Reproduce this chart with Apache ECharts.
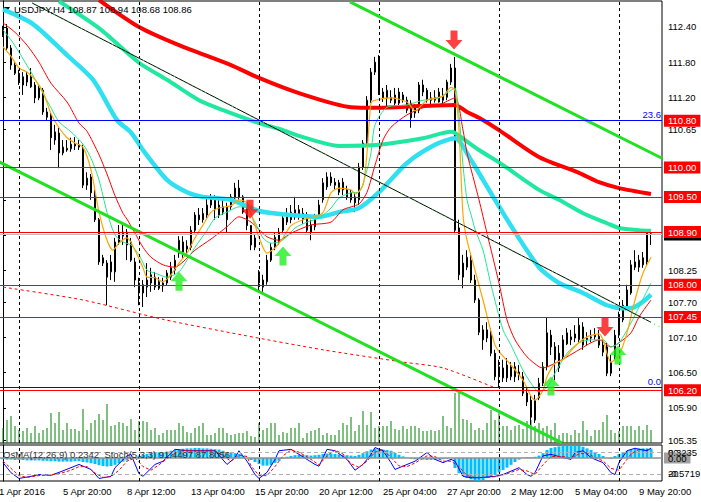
<!DOCTYPE html>
<html>
<head>
<meta charset="utf-8">
<title>USDJPY H4</title>
<script src="https://cdn.jsdelivr.net/npm/echarts@6/dist/echarts.min.js"></script>
<style>
  html, body { margin: 0; padding: 0; background: #fff; }
  #chart { width: 701px; height: 502px; }
</style>
</head>
<body>
<div id="chart"></div>
<script>
// H4 bars, one row per bar: [open, close, low, high]
const candles = [
  [112.26,112.35,112.23,112.42],[112.38,112.04,112.01,112.45],[112.04,111.75,111.67,112.09],[111.75,111.61,111.58,111.80],
  [111.61,111.46,111.41,111.67],[111.41,111.55,111.24,111.63],[111.46,111.58,111.39,111.63],[111.55,111.38,111.36,111.70],
  [111.41,111.19,111.10,111.46],[111.19,111.36,111.15,111.41],[111.32,110.95,110.90,111.36],[110.95,110.86,110.81,111.02],
  [110.90,110.51,110.30,110.95],[110.47,110.61,110.39,110.73],[110.59,110.25,109.99,110.68],[110.25,110.35,110.21,110.47],
  [110.30,110.33,110.27,110.47],[110.32,110.40,110.27,110.51],[110.37,110.40,110.30,110.52],[110.39,110.35,110.30,110.47],
  [110.33,109.70,109.65,110.39],[109.70,109.82,109.62,109.92],[109.84,109.57,109.45,109.89],[109.53,109.11,109.07,109.62],
  [109.11,108.39,108.34,109.14],[108.46,108.37,108.32,108.51],[108.37,108.13,107.65,108.42],[108.22,108.39,108.08,108.51],
  [108.22,108.73,108.05,108.80],[108.73,108.90,108.68,109.02],[108.83,108.90,108.68,109.02],[108.90,108.68,108.42,108.95],
  [108.73,108.42,108.39,108.80],[108.39,108.08,107.96,108.46],[108.03,107.86,107.65,108.12],[108.00,107.86,107.62,108.08],
  [107.96,108.08,107.79,108.37],[108.17,108.03,107.88,108.29],[108.13,107.96,107.91,108.22],[108.05,107.94,107.91,108.13],
  [108.03,107.98,107.88,108.12],[108.03,108.20,107.98,108.25],[108.13,108.29,108.08,108.39],[108.25,108.42,108.17,108.51],
  [108.54,108.76,108.46,108.83],[108.73,108.56,108.46,108.83],[108.61,108.66,108.51,108.76],[108.64,108.93,108.59,109.00],
  [108.93,109.19,108.88,109.24],[109.19,109.11,109.02,109.31],[109.11,109.22,109.06,109.31],[109.19,109.36,109.14,109.48],
  [109.36,109.45,109.31,109.55],[109.45,109.28,109.11,109.53],[109.36,109.19,109.14,109.45],[109.24,109.33,109.19,109.45],
  [109.33,109.11,108.90,109.40],[109.33,109.50,109.28,109.55],[109.48,109.65,109.45,109.74],[109.65,109.50,109.45,109.79],
  [109.50,109.24,109.21,109.53],[109.33,109.01,108.93,109.36],[109.01,108.68,108.59,109.02],[108.64,108.80,108.59,108.85],
  [108.22,108.03,107.86,108.25],[108.08,107.96,107.88,108.17],[108.05,108.42,108.00,108.51],[108.42,108.64,108.39,108.71],
  [108.64,108.81,108.59,108.90],[108.73,108.90,108.68,108.97],[108.93,109.14,108.88,109.19],[109.07,109.22,109.02,109.31],
  [109.24,109.11,109.05,109.36],[109.16,109.28,109.11,109.50],[109.28,109.16,109.11,109.36],[109.11,109.22,109.04,109.31],
  [109.19,108.93,108.90,109.24],[109.02,108.90,108.76,109.11],[108.99,109.16,108.93,109.21],[109.19,109.36,109.14,109.45],
  [109.45,109.74,109.40,109.82],[109.67,109.84,109.62,109.92],[109.84,109.74,109.69,109.92],[109.75,109.70,109.62,109.82],
  [109.74,109.58,109.53,109.79],[109.75,109.62,109.53,109.82],[109.62,109.50,109.45,109.69],[109.57,109.45,109.40,109.62],
  [109.50,109.40,109.24,109.58],[109.45,110.01,109.36,110.08],[110.01,110.42,109.96,110.47],[110.42,111.15,110.37,111.22],
  [111.15,111.63,111.10,111.70],[111.63,111.80,111.58,111.89],[111.87,111.29,111.24,111.92],[111.29,111.19,111.12,111.36],
  [111.19,111.32,111.03,111.41],[111.20,111.15,111.10,111.32],[111.24,111.10,111.05,111.36],[111.10,111.29,111.05,111.36],
  [111.24,111.15,111.11,111.29],[111.15,110.98,110.93,111.21],[111.10,110.85,110.68,111.15],[110.93,111.02,110.85,111.08],
  [110.98,111.41,110.93,111.46],[111.41,111.29,111.22,111.50],[111.32,111.15,111.11,111.36],[111.19,111.15,111.07,111.29],
  [111.15,111.20,111.11,111.32],[111.12,111.29,111.11,111.36],[111.24,111.15,111.10,111.36],[111.20,111.46,111.15,111.50],
  [111.46,111.70,111.41,111.77],[111.70,108.93,108.88,111.89],[108.97,108.17,108.08,109.11],[108.13,108.37,107.94,108.51],
  [108.30,108.47,108.25,108.59],[108.42,108.08,108.03,108.51],[108.08,107.74,107.69,108.17],[107.74,107.19,107.14,107.77],
  [107.23,107.06,106.89,107.31],[107.09,107.23,107.02,107.36],[107.19,106.83,106.78,107.26],[106.83,106.43,106.37,106.89],
  [106.43,106.60,106.24,106.72],[106.41,106.58,106.34,106.72],[106.63,106.41,106.34,106.75],[106.43,106.60,106.37,106.68],
  [106.60,106.43,106.34,106.68],[106.51,106.46,106.37,106.63],[106.43,106.15,106.10,106.51],[106.15,106.00,105.93,106.24],
  [106.03,105.74,105.61,106.10],[105.69,106.03,105.64,106.12],[106.07,106.32,106.03,106.41],[106.32,106.60,106.27,106.68],
  [106.60,107.18,106.54,107.45],[107.14,106.94,106.80,107.23],[106.94,106.72,106.37,107.02],[106.83,106.58,106.51,106.97],
  [106.77,107.06,106.72,107.14],[106.99,107.18,106.97,107.26],[107.11,107.06,106.97,107.23],[107.09,107.16,107.02,107.31],
  [107.06,107.31,107.01,107.43],[107.28,106.97,106.89,107.36],[107.06,107.09,106.97,107.19],[107.09,107.11,107.02,107.23],
  [107.11,107.14,107.06,107.26],[107.12,106.97,106.92,107.23],[106.97,106.85,106.78,107.06],[106.94,106.49,106.44,107.01],
  [106.49,106.68,106.44,106.80],[106.77,107.14,106.72,107.23],[107.14,107.45,107.09,107.54],[107.40,107.65,107.36,107.74],
  [107.60,107.91,107.57,108.00],[107.86,108.34,107.83,108.42],[108.39,108.30,108.25,108.59],[108.30,108.42,108.22,108.51],
  [108.46,108.34,108.29,108.56],[108.39,108.88,108.34,108.93],[108.87,108.86,108.68,108.94]
];

// tick volume per bar
const volumes = [
  6000,9200,10800,6800,5200,4800,6000,4000,6800,4000,5200,6000,12000,8000,12400,5200,8000,5600,5600,4800,
  13600,5200,8000,9200,11600,9200,15600,6800,7200,8400,8000,6800,9600,5200,8800,8800,8400,5200,6000,3200,
  4000,5200,5200,5200,8000,6800,4400,4000,6000,6800,8000,3200,3200,4000,6000,6000,4000,3200,3600,4000,
  4000,4800,2800,2400,8000,5200,6000,8000,8000,3200,4400,4000,6000,6000,8000,2000,4000,4800,5200,6000,
  3200,4000,3200,3200,5200,8000,7200,10400,4800,7200,12800,7200,12400,6000,6800,6800,6800,8800,5600,5200,
  6800,5600,6800,6800,6000,4800,4800,5200,4800,5200,10800,6800,6000,20000,20000,9600,9200,8000,5200,6000,
  5200,8000,13200,9200,12000,6800,6800,5200,6800,7200,5600,8800,9200,6800,8000,6000,6800,5200,8000,3200,
  4000,4000,3200,5200,4000,8800,5200,2800,5200,5200,8400,11200,5200,4000,4800,6800,6800,6800,5200,6800,
  5200,7200,5200
];

// OsMA(12,26,9) histogram per bar
const osma = [
  -0.03,-0.04,-0.04,-0.05,-0.05,-0.05,-0.06,-0.06,-0.06,-0.06,-0.07,-0.07,-0.08,-0.08,-0.09,
  -0.09,-0.09,-0.09,-0.08,-0.08,-0.10,-0.11,-0.13,-0.15,-0.18,-0.20,-0.21,-0.20,-0.17,
  -0.13,-0.09,-0.06,-0.02,0.02,0.06,0.08,0.10,0.12,0.13,0.14,0.15,0.16,0.18,0.20,
  0.22,0.23,0.24,0.24,0.25,0.25,0.24,0.24,0.23,0.22,0.21,0.18,0.15,0.13,0.12,0.10,0.05,0.00,
  -0.05,-0.10,-0.15,-0.19,-0.19,-0.17,-0.12,-0.07,-0.02,
  0.03,0.05,0.07,0.08,0.08,0.07,0.06,0.07,0.08,0.10,0.11,0.11,0.10,0.09,0.08,0.07,0.06,0.05,0.08,0.12,
  0.17,0.21,0.23,0.22,0.21,0.20,0.18,0.13,0.08,0.04,0.01,-0.02,-0.03,-0.03,-0.04,-0.05,-0.05,-0.05,
  -0.04,-0.03,-0.02,0.00,
  -0.25,-0.38,-0.45,-0.50,-0.53,-0.56,-0.5719,-0.55,-0.50,-0.47,-0.42,-0.36,-0.30,-0.24,-0.17,-0.10,-0.04,
  0.01,0.02,0.02,0.03,0.06,0.12,0.20,0.25,0.27,0.29,0.31,0.32,0.3235,0.31,0.30,0.28,0.24,0.20,0.15,0.10,
  0.05,0.00,-0.02,0.05,0.10,0.15,0.18,0.21,0.23,0.24,0.24,0.24,0.2342
];

// Stochastic(5,3,3) read at [bar, value]
const stochMain = [[0,51],[2,23],[4,7],[7,13],[9,18],[12,16],[14,24],[17,37],[19,46],[22,32],[24,7],[27,13],[28,37],
  [31,70],[32,74],[34,20],[35,13],[38,46],[40,55],[43,88],[46,84],[49,84],[53,84],[56,46],[58,65],[59,84],[61,55],
  [63,18],[64,7],[66,24],[68,60],[69,84],[72,88],[74,74],[78,46],[79,41],[81,88],[83,84],[86,60],[88,30],[90,46],
  [92,74],[93,93],[95,84],[97,51],[98,32],[101,46],[103,55],[106,79],[108,60],[110,51],[112,60],[113,55],[115,13],
  [117,9],[119,9],[121,11],[123,13],[125,18],[128,32],[129,37],[131,18],[132,13],[133,23],[135,70],[137,74],[140,65],
  [142,60],[143,79],[145,84],[147,65],[148,60],[150,51],[152,23],[153,18],[154,51],[156,84],[158,91],[159,88],
  [161,84],[162,91.45]];
const stochSignal = [[0,55],[2,35],[4,15],[6,10],[9,15],[12,17],[14,20],[17,30],[19,40],[21,40],[23,22],[25,10],
  [27,12],[29,30],[31,55],[33,65],[35,40],[37,30],[39,45],[41,62],[43,78],[45,85],[49,84],[53,84],[55,70],[57,55],
  [59,72],[61,68],[62,42],[64,15],[66,15],[68,40],[70,70],[72,86],[74,80],[77,60],[79,45],[81,70],[83,86],[85,75],
  [87,48],[89,38],[91,55],[93,80],[95,88],[97,65],[99,42],[101,40],[103,50],[106,70],[108,68],[110,55],[112,55],
  [114,40],[116,15],[118,10],[121,10],[123,12],[126,20],[129,32],[131,28],[133,18],[135,45],[137,68],[140,68],
  [142,64],[144,75],[146,78],[148,65],[150,56],[152,35],[154,30],[155,45],[157,75],[159,88],[161,87],[162,87.81]];

// moving averages at [bar, price]
const maSlowRed = [[24,112.86],[34,112.40],[44,112.09],[57,111.75],[64,111.53],[74,111.27],[87,111.03],[94,111.02],
  [104,111.05],[113,111.07],[116,110.95],[119,110.85],[124,110.64],[134,110.18],[144,109.91],[149,109.75],[154,109.65],[162,109.55]];
const maTeal = [[14,112.84],[24,112.38],[34,111.79],[41,111.50],[49,111.15],[57,110.93],[64,110.76],[70,110.64],
  [74,110.54],[79,110.44],[84,110.37],[94,110.39],[105,110.50],[112,110.61],[113,110.59],[119,110.30],[124,110.09],
  [134,109.62],[139,109.45],[145,109.22],[151,109.05],[154,108.97],[159,108.93],[162,108.92]];
const maCyan = [[0,112.70],[7.5,112.45],[16,111.92],[22.5,111.50],[28.5,110.81],[32,110.60],[35,110.30],[41,109.79],
  [46,109.58],[50,109.50],[57,109.45],[64,109.26],[72,109.19],[79,109.16],[84,109.24],[89,109.31],[94,109.58],
  [101,110.08],[108,110.39],[113,110.50],[117,110.13],[120,109.79],[123,109.45],[128,108.90],[134,108.30],
  [139,108.03],[145,107.86],[151,107.65],[155,107.60],[157,107.60],[160,107.71],[162,107.83]];
const maFastRed = [[0,112.47],[3,112.31],[6,112.09],[9,111.80],[12,111.44],[16,111.12],[19,110.76],[21,110.62],
  [24,110.22],[26,109.89],[28,109.52],[30,109.22],[31,109.12],[33,108.88],[35,108.64],[37,108.47],[40,108.34],
  [43,108.30],[45,108.39],[48,108.59],[52,108.78],[56,108.99],[59,109.16],[62,109.07],[66,108.82],[69,108.76],
  [72,108.88],[77,109.02],[82,109.07],[85,109.28],[89,109.38],[91,109.58],[93,110.04],[95,110.47],[97,110.69],
  [101,110.90],[105,111.02],[109,111.07],[113,111.19],[115,110.64],[116,110.25],[119,109.45],[121,108.88],
  [124,108.03],[126,107.40],[128,107.06],[131,106.77],[134,106.60],[135,106.58],[138,106.66],[141,106.77],
  [144,106.89],[147,107.01],[149,107.06],[152,106.94],[154,107.01],[157,107.18],[159,107.45],[162,107.74]];
const maGreen = [[0,112.35],[2,112.18],[4,111.97],[7,111.63],[9,111.39],[12,111.02],[14,110.78],[17,110.61],
  [20,110.40],[22,110.16],[24,109.79],[26,109.24],[28,108.85],[30,108.73],[32,108.68],[34,108.51],[36,108.25],
  [38,108.20],[41,108.13],[44,108.22],[46,108.42],[48,108.64],[51,108.93],[53,109.14],[56,109.24],[59,109.33],
  [61,109.31],[63,109.07],[65,108.80],[67,108.71],[69,108.73],[71,108.82],[73,108.97],[76,109.07],[79,109.14],
  [82,109.31],[84,109.48],[87,109.57],[89,109.58],[91,109.96],[92,110.25],[93,110.73],[96,111.03],[101,111.07],
  [105,111.15],[109,111.19],[112,111.32],[113,111.36],[114,110.90],[115,110.04],[116,109.45],[117,109.20],
  [118,108.95],[120,108.59],[122,108.00],[125,107.23],[127,106.97],[130,106.54],[132,106.32],[134,106.17],
  [136,106.25],[138,106.49],[141,106.83],[144,107.01],[147,107.06],[150,107.06],[152,106.94],[154,107.01],
  [157,107.35],[159,107.62],[162,108.03]];
const maOrange = [[0,112.06],[2,111.90],[4,111.70],[6,111.63],[8,111.50],[10,111.29],[12,110.92],[14,110.68],
  [16,110.51],[18,110.42],[20,110.35],[22,109.96],[24,109.24],[26,108.76],[27.5,108.59],[29,108.71],[31,108.80],
  [33,108.59],[35,108.29],[36,108.13],[38,108.12],[40,108.05],[42,108.17],[44,108.37],[46,108.54],[48,108.80],
  [50,109.02],[52,109.24],[54,109.31],[57,109.35],[59,109.45],[61,109.40],[62,109.21],[63,109.02],[64,108.81],
  [66,108.54],[68,108.63],[70,108.80],[72,109.01],[75,109.11],[78,109.16],[80,109.23],[82,109.57],[84,109.65],
  [87,109.62],[88,109.55],[90,109.70],[91,110.25],[92,111.10],[93,111.15],[97,111.19],[101,111.12],[103,110.97],
  [106,111.15],[110,111.22],[112,111.37],[113,111.32],[114,110.64],[115,109.19],[116,108.76],[118,108.25],
  [120,107.74],[123,106.97],[125,106.78],[127,106.63],[130,106.37],[132,106.10],[133,106.03],[135,106.20],
  [136,106.43],[138,106.66],[140,106.72],[143,106.95],[146,107.11],[149,107.16],[150,107.06],[152,106.68],
  [154,106.80],[156,107.18],[158,107.74],[160,108.20],[162,108.47]];
const maDottedRed = [[0,107.96],[20,107.74],[40,107.41],[60,107.14],[80,106.89],[100,106.68],[110,106.58],[123,106.24]];

// horizontal levels
const levelPrices = [110.80, 110.00, 109.50, 108.90, 108.00, 107.45, 106.20];
const fibPrices = [110.80, 106.25];
const fibNames = ['23.6', '0.0'];
const lastPrice = 108.86;

// trend lines, [bar, price] end points
const upperChannel = [[86.75, 112.83], [164.75, 110.16]];
const lowerChannel = [[-1, 110.10], [139.75, 105.30]];
const midTrend = [[7.25, 112.81], [162, 107.36]];
const midTrendRay = [[7.25, 112.81], [164.75, 107.26]];

// signal arrows, [bar, price]
const sellArrows = [[61.75, 109.29], [112.75, 112.18], [150.5, 107.28]];
const buyArrows = [[44, 108.06], [70, 108.49], [137, 106.27], [153.75, 106.80]];

// axis ticks
const priceTicks = [112.40, 111.80, 111.20, 110.65, 110.05, 109.45, 108.85, 108.25, 107.70, 107.10, 106.50, 105.90, 105.35];
const weekBars = [4, 34, 64, 94, 124, 154];
const timeLabelBars = [-1, 15, 31, 47, 63, 79, 95, 111, 127, 143, 159];
const timeLabels = ['1 Apr 2016', '5 Apr 20:00', '8 Apr 12:00', '13 Apr 04:00', '15 Apr 20:00', '20 Apr 12:00',
  '25 Apr 04:00', '27 Apr 20:00', '2 May 12:00', '5 May 04:00', '9 May 20:00'];

const FONT = '"Liberation Sans", Arial, sans-serif';
const FS = 9.5;
const X_MIN = -1, X_MAX = 164.75;

const ARROW_DOWN = 'path://M5,0 L12,0 L12,9 L17,9 L8.5,18 L0,9 L5,9 Z';
const ARROW_UP = 'path://M8.5,0 L17,9 L12,9 L12,18 L5,18 L5,9 L0,9 Z';

// Builds a moving average line series
function maSeries(data, color, width, extra) {
  return {
    type: 'line', xAxisIndex: 0, yAxisIndex: 0, data: data,
    symbol: 'none', smooth: 0.25, silent: true, z: 3,
    lineStyle: { color: color, width: width },
    ...extra
  };
}

// Builds a trend line as a markLine segment
function segment(points) {
  return [{ coord: points[0] }, { coord: points[1] }];
}

// Builds an empty carrier series for markLines
function carrier(xi, yi, markLine, z) {
  return { type: 'line', xAxisIndex: xi, yAxisIndex: yi, data: [], silent: true, z: z, markLine: markLine };
}

function baseMark(overrides) {
  return { symbol: 'none', silent: true, animation: false, ...overrides };
}

const chart = echarts.init(document.getElementById('chart'), null, { renderer: 'svg' });

const timeLabelMap = {};
timeLabelBars.forEach((b, k) => { timeLabelMap[b] = timeLabels[k]; });

const option = {
  animation: false,
  backgroundColor: '#ffffff',
  textStyle: { fontFamily: FONT },
  title: [
    { text: 'USDJPY,H4 108.87 108.94 108.68 108.86', left: 14, top: 4, padding: 0,
      textStyle: { fontSize: FS, fontWeight: 'normal', color: '#000', fontFamily: FONT } },
    { text: 'OsMA(12,26,9) 0.2342  Stoch(5,3,3) 91.4497 87.8056', left: 3, top: 449, padding: 0,
      textStyle: { fontSize: FS, fontWeight: 'normal', color: '#333', fontFamily: FONT } }
  ],
  graphic: [
    { type: 'polygon', shape: { points: [[3, 7], [10, 7], [6.5, 12]] }, style: { fill: '#000' } }
  ],
  grid: [
    { left: -1, top: 1, width: 663, height: 442, show: true, borderColor: '#000', borderWidth: 1,
      backgroundColor: 'transparent', containLabel: false, outerBoundsMode: 'none' },
    { left: -1, top: 445, width: 663, height: 36, show: true, borderColor: '#000', borderWidth: 1,
      backgroundColor: 'transparent', containLabel: false, outerBoundsMode: 'none' }
  ],
  xAxis: [
    { type: 'value', gridIndex: 0, min: X_MIN, max: X_MAX, show: false },
    { type: 'value', gridIndex: 1, min: X_MIN, max: X_MAX,
      axisLine: { show: false }, axisTick: { show: false }, splitLine: { show: false },
      axisLabel: { show: true, customValues: timeLabelBars, align: 'left', margin: 5,
        fontSize: FS, color: '#000', fontFamily: FONT,
        formatter: v => timeLabelMap[v] || '' } }
  ],
  yAxis: [
    { type: 'value', gridIndex: 0, position: 'right', min: 105.2988, max: 112.8438,
      axisLine: { show: true, lineStyle: { color: '#000' } },
      axisTick: { show: true, length: 3, customValues: priceTicks, lineStyle: { color: '#000' } },
      splitLine: { show: false },
      axisLabel: { show: true, customValues: priceTicks, margin: 6, fontSize: FS, color: '#000',
        fontFamily: FONT, formatter: v => v.toFixed(2) } },
    { type: 'value', gridIndex: 0, min: 0, max: 176800, show: false },
    { type: 'value', gridIndex: 1, position: 'right', min: 0, max: 100,
      axisLine: { show: true, lineStyle: { color: '#000' } },
      axisTick: { show: false }, splitLine: { show: false },
      axisLabel: { show: true, customValues: [20, 80], margin: 6, fontSize: FS, color: '#000',
        fontFamily: FONT, formatter: v => String(v) } },
    { type: 'value', gridIndex: 1, position: 'right', min: -0.5719, max: 0.3235,
      axisLine: { show: false }, axisTick: { show: false }, splitLine: { show: false },
      axisLabel: { show: true, customValues: [0], margin: 2, fontSize: FS, color: '#000',
        fontFamily: FONT, backgroundColor: '#a0a0a0', padding: [1, 4, 0, 4], formatter: () => '0.00' } },
    { type: 'value', gridIndex: 1, position: 'right', min: 0, max: 100,
      axisLine: { show: false }, axisTick: { show: false }, splitLine: { show: false },
      axisLabel: { show: true, customValues: [20, 80], margin: 6, fontSize: FS, color: '#000',
        fontFamily: FONT, formatter: v => (v === 80 ? '0.3235' : '-0.5719') } }
  ],
  series: [
    // week separators
    carrier(0, 0, baseMark({ lineStyle: { color: '#000', width: 1, type: [3, 3] }, label: { show: false },
      data: weekBars.map(b => ({ xAxis: b })) }), 0),
    carrier(1, 2, baseMark({ lineStyle: { color: '#000', width: 1, type: [3, 3] }, label: { show: false },
      data: weekBars.map(b => ({ xAxis: b })) }), 0),
    {
      name: 'Volume', type: 'bar', xAxisIndex: 0, yAxisIndex: 1, barWidth: 1, silent: true, z: 1,
      itemStyle: { color: '#008000' },
      data: volumes.map((v, i) => [i, v])
    },
    {
      name: 'USDJPY', type: 'candlestick', xAxisIndex: 0, yAxisIndex: 0, barWidth: 2, silent: true, z: 2,
      encode: { x: 0, y: [1, 2, 3, 4] },
      itemStyle: { color: '#ffffff', color0: '#000000', borderColor: '#000000', borderColor0: '#000000', borderWidth: 1 },
      data: candles.map((c, i) => [i, c[0], c[1], c[2], c[3]])
    },
    maSeries(maDottedRed, '#ff0000', 1, { lineStyle: { color: '#ff0000', width: 1, type: [3, 3] } }),
    maSeries(maSlowRed, '#ff0000', 4),
    maSeries(maTeal, '#20e8a0', 4),
    maSeries(maCyan, '#30e0f0', 4.5),
    maSeries(maFastRed, '#ff0000', 1),
    maSeries(maGreen, '#20e890', 1),
    maSeries(maOrange, '#ffa500', 1.2),
    // trend lines
    carrier(0, 0, baseMark({ label: { show: false }, data: [segment(upperChannel), segment(lowerChannel)],
      lineStyle: { color: '#22e022', width: 3, type: 'solid' } }), 4),
    carrier(0, 0, baseMark({ label: { show: false }, data: [segment(midTrend)],
      lineStyle: { color: '#000', width: 1, type: 'solid' } }), 4),
    carrier(0, 0, baseMark({ label: { show: false }, data: [segment(midTrendRay)],
      lineStyle: { color: '#22dd22', width: 1, type: [1, 4] } }), 4),
    // current price
    carrier(0, 0, baseMark({
      lineStyle: { color: '#c0c0c0', width: 1, type: 'solid' },
      label: { show: true, position: 'end', distance: 2, color: '#fff', backgroundColor: '#000',
        padding: [1, 4, 1, 4], fontSize: FS, fontFamily: FONT, formatter: p => p.value.toFixed(2) },
      data: [{ yAxis: lastPrice }] }), 4),
    // horizontal levels
    carrier(0, 0, baseMark({
      lineStyle: { color: '#ff0000', width: 1, type: 'solid' },
      label: { show: true, position: 'end', distance: 2, color: '#fff', backgroundColor: '#ff0000',
        padding: [1, 4, 1, 4], fontSize: FS, fontFamily: FONT, formatter: p => p.value.toFixed(2) },
      data: levelPrices.map(v => ({ yAxis: v })) }), 5),
    carrier(0, 0, baseMark({
      lineStyle: { color: '#0000ff', width: 1, type: 'solid' },
      label: { show: true, position: 'insideEndTop', distance: 1, color: '#0000ff', fontSize: FS, fontFamily: FONT,
        formatter: p => fibNames[fibPrices.indexOf(p.value)] },
      data: fibPrices.map(v => ({ yAxis: v })) }), 5),
    {
      name: 'Sell', type: 'scatter', xAxisIndex: 0, yAxisIndex: 0, symbol: ARROW_DOWN, symbolSize: [17, 19],
      silent: true, z: 6, itemStyle: { color: '#ff1010' }, data: sellArrows
    },
    {
      name: 'Buy', type: 'scatter', xAxisIndex: 0, yAxisIndex: 0, symbol: ARROW_UP, symbolSize: [17, 19],
      silent: true, z: 6, itemStyle: { color: '#22ee22' }, data: buyArrows
    },
    // lower panel
    {
      name: 'OsMA', type: 'bar', xAxisIndex: 1, yAxisIndex: 3, barWidth: 3, silent: true, z: 2,
      itemStyle: { color: '#00bfff' },
      data: osma.map((v, i) => [i, v]),
      markLine: baseMark({ lineStyle: { color: '#909090', width: 1.5, type: 'solid' }, label: { show: false },
        data: [{ yAxis: 0 }] })
    },
    {
      name: 'Stoch', type: 'line', xAxisIndex: 1, yAxisIndex: 2, symbol: 'none', silent: true, z: 3,
      lineStyle: { color: '#0000ff', width: 1 }, data: stochMain,
      markLine: baseMark({ lineStyle: { color: '#b0b0b0', width: 1, type: [4, 3] }, label: { show: false },
        data: [{ yAxis: 80 }, { yAxis: 20 }] })
    },
    {
      name: 'Signal', type: 'line', xAxisIndex: 1, yAxisIndex: 2, symbol: 'none', silent: true, z: 3,
      lineStyle: { color: '#ff0000', width: 1, type: [3, 2] }, data: stochSignal
    }
  ]
};

chart.setOption(option);
</script>
</body>
</html>
